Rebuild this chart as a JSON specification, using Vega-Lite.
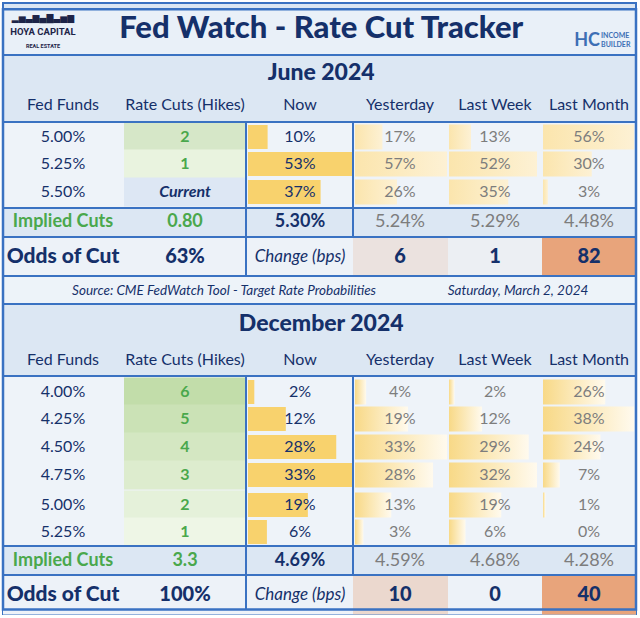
{
"$schema":"https://vega.github.io/schema/vega-lite/v6.json",
"width":633,"height":611,"padding":3,"autosize":{"type":"none"},
"background":"#ffffff",
"config":{"view":{"fill":"#dce7f3","stroke":"#3a72c2","strokeWidth":2},"axis":{"disable":true},"legend":{"disable":true},"text":{"font":"Lato","baseline":"middle","align":"center"}},
"datasets":{
"probs":[
{"sec":"June 2024","r":3,"fed":"5.00%","cuts":2,"now":0.10,"yest":0.17,"week":0.13,"month":0.56},
{"sec":"June 2024","r":4,"fed":"5.25%","cuts":1,"now":0.53,"yest":0.57,"week":0.52,"month":0.30},
{"sec":"June 2024","r":5,"fed":"5.50%","cuts":null,"now":0.37,"yest":0.26,"week":0.35,"month":0.03},
{"sec":"December 2024","r":11,"fed":"4.00%","cuts":6,"now":0.02,"yest":0.04,"week":0.02,"month":0.26},
{"sec":"December 2024","r":12,"fed":"4.25%","cuts":5,"now":0.12,"yest":0.19,"week":0.12,"month":0.38},
{"sec":"December 2024","r":13,"fed":"4.50%","cuts":4,"now":0.28,"yest":0.33,"week":0.29,"month":0.24},
{"sec":"December 2024","r":14,"fed":"4.75%","cuts":3,"now":0.33,"yest":0.28,"week":0.32,"month":0.07},
{"sec":"December 2024","r":15,"fed":"5.00%","cuts":2,"now":0.19,"yest":0.13,"week":0.19,"month":0.01},
{"sec":"December 2024","r":16,"fed":"5.25%","cuts":1,"now":0.06,"yest":0.03,"week":0.06,"month":0.00}],
"implied":[
{"sec":"June 2024","r":6,"cuts":"0.80","now":0.0530,"yest":0.0524,"week":0.0529,"month":0.0448},
{"sec":"December 2024","r":17,"cuts":"3.3","now":0.0469,"yest":0.0459,"week":0.0468,"month":0.0428}],
"odds":[
{"sec":"June 2024","r":7,"odds":0.63,"yest":6,"week":1,"month":82},
{"sec":"December 2024","r":18,"odds":1.00,"yest":10,"week":0,"month":40}],
"sections":[{"sec":"June 2024","r":1},{"sec":"December 2024","r":9}],
"cols":[{"c":0,"name":"Fed Funds"},{"c":1,"name":"Rate Cuts (Hikes)"},{"c":2,"name":"Now"},{"c":3,"name":"Yesterday"},{"c":4,"name":"Last Week"},{"c":5,"name":"Last Month"}]
},
"resolve":{"scale":{"x":"independent"}},
"layer":[
{"layer":[
{"data":{"values":[{}]},"mark":{"type":"rect","fill":"#e9f0f8"},"encoding":{"x":{"datum":-0.5,"type":"quantitative","scale":{"domain":[-0.5,0,0.5,1,1.5,2,2.5,3,3.5,4,4.5,5,5.5],"range":[0,60,121,182,243,297,350,397,445,492,539,586,633],"nice":false,"zero":false}},"x2":{"datum":5.5},"y":{"datum":-0.5,"type":"quantitative","scale":{"domain":[-0.5,0,0.5,1,1.5,2,2.5,3,3.5,4,4.5,5,5.5,6,6.5,7,7.5,8,8.5,9,9.5,10,10.5,11,11.5,12,12.5,13,13.5,14,14.5,15,15.5,16,16.5,17,17.5,18,18.5],"range":[0,26,52,70,87,102,119,134,147,161,175,189,205,219,234,254,273,288,301,321,339,357,373,389,402,416,430,444,458,472,487,502,515,529,543,558,572,592,611],"nice":false,"zero":false}},"y2":{"datum":0.5}}},
{"data":{"values":[{}]},"mark":{"type":"rect","fill":"#edf3f9"},"encoding":{"x":{"datum":-0.5,"type":"quantitative","scale":{"domain":[-0.5,0,0.5,1,1.5,2,2.5,3,3.5,4,4.5,5,5.5],"range":[0,60,121,182,243,297,350,397,445,492,539,586,633],"nice":false,"zero":false}},"x2":{"datum":5.5},"y":{"datum":7.5,"type":"quantitative","scale":{"domain":[-0.5,0,0.5,1,1.5,2,2.5,3,3.5,4,4.5,5,5.5,6,6.5,7,7.5,8,8.5,9,9.5,10,10.5,11,11.5,12,12.5,13,13.5,14,14.5,15,15.5,16,16.5,17,17.5,18,18.5],"range":[0,26,52,70,87,102,119,134,147,161,175,189,205,219,234,254,273,288,301,321,339,357,373,389,402,416,430,444,458,472,487,502,515,529,543,558,572,592,611],"nice":false,"zero":false}},"y2":{"datum":8.5}}},
{"data":{"name":"probs"},"mark":{"type":"rect","fill":"#eef3f9","height":30},"encoding":{"x":{"datum":-0.5,"type":"quantitative","scale":{"domain":[-0.5,0,0.5,1,1.5,2,2.5,3,3.5,4,4.5,5,5.5],"range":[0,60,121,182,243,297,350,397,445,492,539,586,633],"nice":false,"zero":false}},"x2":{"datum":5.5},"y":{"field":"r","type":"quantitative","scale":{"domain":[-0.5,0,0.5,1,1.5,2,2.5,3,3.5,4,4.5,5,5.5,6,6.5,7,7.5,8,8.5,9,9.5,10,10.5,11,11.5,12,12.5,13,13.5,14,14.5,15,15.5,16,16.5,17,17.5,18,18.5],"range":[0,26,52,70,87,102,119,134,147,161,175,189,205,219,234,254,273,288,301,321,339,357,373,389,402,416,430,444,458,472,487,502,515,529,543,558,572,592,611],"nice":false,"zero":false}}}},
{"data":{"name":"odds"},"mark":{"type":"rect","fill":"#edf2f8","height":39},"encoding":{"x":{"datum":-0.5,"type":"quantitative","scale":{"domain":[-0.5,0,0.5,1,1.5,2,2.5,3,3.5,4,4.5,5,5.5],"range":[0,60,121,182,243,297,350,397,445,492,539,586,633],"nice":false,"zero":false}},"x2":{"datum":5.5},"y":{"field":"r","type":"quantitative","scale":{"domain":[-0.5,0,0.5,1,1.5,2,2.5,3,3.5,4,4.5,5,5.5,6,6.5,7,7.5,8,8.5,9,9.5,10,10.5,11,11.5,12,12.5,13,13.5,14,14.5,15,15.5,16,16.5,17,17.5,18,18.5],"range":[0,26,52,70,87,102,119,134,147,161,175,189,205,219,234,254,273,288,301,321,339,357,373,389,402,416,430,444,458,472,487,502,515,529,543,558,572,592,611],"nice":false,"zero":false}}}},
{"data":{"name":"probs"},"transform":[{"filter":"datum.sec == 'June 2024' && isValid(datum.cuts)"}],"mark":{"type":"rect","height":29},"encoding":{"x":{"datum":0.5,"type":"quantitative","scale":{"domain":[-0.5,0,0.5,1,1.5,2,2.5,3,3.5,4,4.5,5,5.5],"range":[0,60,121,182,243,297,350,397,445,492,539,586,633],"nice":false,"zero":false}},"x2":{"datum":1.5},"y":{"field":"r","type":"quantitative","scale":{"domain":[-0.5,0,0.5,1,1.5,2,2.5,3,3.5,4,4.5,5,5.5,6,6.5,7,7.5,8,8.5,9,9.5,10,10.5,11,11.5,12,12.5,13,13.5,14,14.5,15,15.5,16,16.5,17,17.5,18,18.5],"range":[0,26,52,70,87,102,119,134,147,161,175,189,205,219,234,254,273,288,301,321,339,357,373,389,402,416,430,444,458,472,487,502,515,529,543,558,572,592,611],"nice":false,"zero":false}},"fill":{"field":"cuts","type":"quantitative","scale":{"domain":[1,2],"range":["#e9f3df","#d6e7c8"]},"legend":null}}},
{"data":{"name":"probs"},"transform":[{"filter":"datum.sec == 'December 2024' && isValid(datum.cuts)"}],"mark":{"type":"rect","height":29},"encoding":{"x":{"datum":0.5,"type":"quantitative","scale":{"domain":[-0.5,0,0.5,1,1.5,2,2.5,3,3.5,4,4.5,5,5.5],"range":[0,60,121,182,243,297,350,397,445,492,539,586,633],"nice":false,"zero":false}},"x2":{"datum":1.5},"y":{"field":"r","type":"quantitative","scale":{"domain":[-0.5,0,0.5,1,1.5,2,2.5,3,3.5,4,4.5,5,5.5,6,6.5,7,7.5,8,8.5,9,9.5,10,10.5,11,11.5,12,12.5,13,13.5,14,14.5,15,15.5,16,16.5,17,17.5,18,18.5],"range":[0,26,52,70,87,102,119,134,147,161,175,189,205,219,234,254,273,288,301,321,339,357,373,389,402,416,430,444,458,472,487,502,515,529,543,558,572,592,611],"nice":false,"zero":false}},"color":{"field":"cuts","type":"quantitative","scale":{"domain":[1,6],"range":["#eef6e6","#c2ddaa"]},"legend":null}}},
{"data":{"name":"probs"},"transform":[{"filter":"!isValid(datum.cuts)"}],"mark":{"type":"rect","height":29,"fill":"#dde7f4"},"encoding":{"x":{"datum":0.5,"type":"quantitative","scale":{"domain":[-0.5,0,0.5,1,1.5,2,2.5,3,3.5,4,4.5,5,5.5],"range":[0,60,121,182,243,297,350,397,445,492,539,586,633],"nice":false,"zero":false}},"x2":{"datum":1.5},"y":{"field":"r","type":"quantitative","scale":{"domain":[-0.5,0,0.5,1,1.5,2,2.5,3,3.5,4,4.5,5,5.5,6,6.5,7,7.5,8,8.5,9,9.5,10,10.5,11,11.5,12,12.5,13,13.5,14,14.5,15,15.5,16,16.5,17,17.5,18,18.5],"range":[0,26,52,70,87,102,119,134,147,161,175,189,205,219,234,254,273,288,301,321,339,357,373,389,402,416,430,444,458,472,487,502,515,529,543,558,572,592,611],"nice":false,"zero":false}}}},
{"data":{"name":"odds"},"mark":{"type":"rect","height":39,"fill":"#e8a47b"},"encoding":{"x":{"datum":2.5,"type":"quantitative","scale":{"domain":[-0.5,0,0.5,1,1.5,2,2.5,3,3.5,4,4.5,5,5.5],"range":[0,60,121,182,243,297,350,397,445,492,539,586,633],"nice":false,"zero":false}},"x2":{"datum":3.5},"y":{"field":"r","type":"quantitative","scale":{"domain":[-0.5,0,0.5,1,1.5,2,2.5,3,3.5,4,4.5,5,5.5,6,6.5,7,7.5,8,8.5,9,9.5,10,10.5,11,11.5,12,12.5,13,13.5,14,14.5,15,15.5,16,16.5,17,17.5,18,18.5],"range":[0,26,52,70,87,102,119,134,147,161,175,189,205,219,234,254,273,288,301,321,339,357,373,389,402,416,430,444,458,472,487,502,515,529,543,558,572,592,611],"nice":false,"zero":false}},"opacity":{"field":"yest","type":"quantitative","scale":{"domain":[0,30],"range":[0,1],"clamp":true},"legend":null}}},
{"data":{"name":"odds"},"mark":{"type":"rect","height":39,"fill":"#e8a47b"},"encoding":{"x":{"datum":3.5,"type":"quantitative","scale":{"domain":[-0.5,0,0.5,1,1.5,2,2.5,3,3.5,4,4.5,5,5.5],"range":[0,60,121,182,243,297,350,397,445,492,539,586,633],"nice":false,"zero":false}},"x2":{"datum":4.5},"y":{"field":"r","type":"quantitative","scale":{"domain":[-0.5,0,0.5,1,1.5,2,2.5,3,3.5,4,4.5,5,5.5,6,6.5,7,7.5,8,8.5,9,9.5,10,10.5,11,11.5,12,12.5,13,13.5,14,14.5,15,15.5,16,16.5,17,17.5,18,18.5],"range":[0,26,52,70,87,102,119,134,147,161,175,189,205,219,234,254,273,288,301,321,339,357,373,389,402,416,430,444,458,472,487,502,515,529,543,558,572,592,611],"nice":false,"zero":false}},"opacity":{"field":"week","type":"quantitative","scale":{"domain":[0,30],"range":[0,1],"clamp":true},"legend":null}}},
{"data":{"name":"odds"},"mark":{"type":"rect","height":39,"fill":"#e8a47b"},"encoding":{"x":{"datum":4.5,"type":"quantitative","scale":{"domain":[-0.5,0,0.5,1,1.5,2,2.5,3,3.5,4,4.5,5,5.5],"range":[0,60,121,182,243,297,350,397,445,492,539,586,633],"nice":false,"zero":false}},"x2":{"datum":5.5},"y":{"field":"r","type":"quantitative","scale":{"domain":[-0.5,0,0.5,1,1.5,2,2.5,3,3.5,4,4.5,5,5.5,6,6.5,7,7.5,8,8.5,9,9.5,10,10.5,11,11.5,12,12.5,13,13.5,14,14.5,15,15.5,16,16.5,17,17.5,18,18.5],"range":[0,26,52,70,87,102,119,134,147,161,175,189,205,219,234,254,273,288,301,321,339,357,373,389,402,416,430,444,458,472,487,502,515,529,543,558,572,592,611],"nice":false,"zero":false}},"opacity":{"field":"month","type":"quantitative","scale":{"domain":[0,30],"range":[0,1],"clamp":true},"legend":null}}}
]},
{"data":{"name":"probs"},"transform":[{"filter":"datum.sec == 'June 2024'"}],"mark":{"type":"bar","orient":"horizontal","height":24,"fill":"#f8d26d"},"encoding":{"x":{"field":"now","type":"quantitative","scale":{"range":[245,349],"nice":false,"zero":true}},"y":{"field":"r","type":"quantitative","scale":{"domain":[-0.5,0,0.5,1,1.5,2,2.5,3,3.5,4,4.5,5,5.5,6,6.5,7,7.5,8,8.5,9,9.5,10,10.5,11,11.5,12,12.5,13,13.5,14,14.5,15,15.5,16,16.5,17,17.5,18,18.5],"range":[0,26,52,70,87,102,119,134,147,161,175,189,205,219,234,254,273,288,301,321,339,357,373,389,402,416,430,444,458,472,487,502,515,529,543,558,572,592,611],"nice":false,"zero":false}}}},
{"data":{"name":"probs"},"transform":[{"filter":"datum.sec == 'December 2024'"}],"mark":{"type":"bar","orient":"horizontal","height":24,"fill":"#f8d26d"},"encoding":{"x":{"field":"now","type":"quantitative","scale":{"range":[245,349],"nice":false,"zero":true}},"y":{"field":"r","type":"quantitative","scale":{"domain":[-0.5,0,0.5,1,1.5,2,2.5,3,3.5,4,4.5,5,5.5,6,6.5,7,7.5,8,8.5,9,9.5,10,10.5,11,11.5,12,12.5,13,13.5,14,14.5,15,15.5,16,16.5,17,17.5,18,18.5],"range":[0,26,52,70,87,102,119,134,147,161,175,189,205,219,234,254,273,288,301,321,339,357,373,389,402,416,430,444,458,472,487,502,515,529,543,558,572,592,611],"nice":false,"zero":false}}}},
{"data":{"name":"probs"},"transform":[{"filter":"datum.sec == 'June 2024'"}],"mark":{"type":"bar","orient":"horizontal","height":25,"fill":{"gradient":"linear","x1":0,"y1":0,"x2":1,"y2":0,"stops":[{"offset":0,"color":"#fbe5ad"},{"offset":1,"color":"#fdf1d4"}]}},"encoding":{"x":{"field":"yest","type":"quantitative","scale":{"range":[352,444],"nice":false,"zero":true}},"y":{"field":"r","type":"quantitative","scale":{"domain":[-0.5,0,0.5,1,1.5,2,2.5,3,3.5,4,4.5,5,5.5,6,6.5,7,7.5,8,8.5,9,9.5,10,10.5,11,11.5,12,12.5,13,13.5,14,14.5,15,15.5,16,16.5,17,17.5,18,18.5],"range":[0,26,52,70,87,102,119,134,147,161,175,189,205,219,234,254,273,288,301,321,339,357,373,389,402,416,430,444,458,472,487,502,515,529,543,558,572,592,611],"nice":false,"zero":false}}}},
{"data":{"name":"probs"},"transform":[{"filter":"datum.sec == 'June 2024'"}],"mark":{"type":"bar","orient":"horizontal","height":25,"fill":{"gradient":"linear","x1":0,"y1":0,"x2":1,"y2":0,"stops":[{"offset":0,"color":"#fbe5ad"},{"offset":1,"color":"#fdf1d4"}]}},"encoding":{"x":{"field":"week","type":"quantitative","scale":{"range":[446,534],"nice":false,"zero":true}},"y":{"field":"r","type":"quantitative","scale":{"domain":[-0.5,0,0.5,1,1.5,2,2.5,3,3.5,4,4.5,5,5.5,6,6.5,7,7.5,8,8.5,9,9.5,10,10.5,11,11.5,12,12.5,13,13.5,14,14.5,15,15.5,16,16.5,17,17.5,18,18.5],"range":[0,26,52,70,87,102,119,134,147,161,175,189,205,219,234,254,273,288,301,321,339,357,373,389,402,416,430,444,458,472,487,502,515,529,543,558,572,592,611],"nice":false,"zero":false}}}},
{"data":{"name":"probs"},"transform":[{"filter":"datum.sec == 'June 2024'"}],"mark":{"type":"bar","orient":"horizontal","height":25,"fill":{"gradient":"linear","x1":0,"y1":0,"x2":1,"y2":0,"stops":[{"offset":0,"color":"#fbe5ad"},{"offset":1,"color":"#fdf1d4"}]}},"encoding":{"x":{"field":"month","type":"quantitative","scale":{"range":[540,631],"nice":false,"zero":true}},"y":{"field":"r","type":"quantitative","scale":{"domain":[-0.5,0,0.5,1,1.5,2,2.5,3,3.5,4,4.5,5,5.5,6,6.5,7,7.5,8,8.5,9,9.5,10,10.5,11,11.5,12,12.5,13,13.5,14,14.5,15,15.5,16,16.5,17,17.5,18,18.5],"range":[0,26,52,70,87,102,119,134,147,161,175,189,205,219,234,254,273,288,301,321,339,357,373,389,402,416,430,444,458,472,487,502,515,529,543,558,572,592,611],"nice":false,"zero":false}}}},
{"data":{"name":"probs"},"transform":[{"filter":"datum.sec == 'December 2024'"}],"mark":{"type":"bar","orient":"horizontal","height":25,"fill":{"gradient":"linear","x1":0,"y1":0,"x2":1,"y2":0,"stops":[{"offset":0,"color":"#f8d987"},{"offset":1,"color":"#fffaee"}]}},"encoding":{"x":{"field":"yest","type":"quantitative","scale":{"range":[352,444],"nice":false,"zero":true}},"y":{"field":"r","type":"quantitative","scale":{"domain":[-0.5,0,0.5,1,1.5,2,2.5,3,3.5,4,4.5,5,5.5,6,6.5,7,7.5,8,8.5,9,9.5,10,10.5,11,11.5,12,12.5,13,13.5,14,14.5,15,15.5,16,16.5,17,17.5,18,18.5],"range":[0,26,52,70,87,102,119,134,147,161,175,189,205,219,234,254,273,288,301,321,339,357,373,389,402,416,430,444,458,472,487,502,515,529,543,558,572,592,611],"nice":false,"zero":false}}}},
{"data":{"name":"probs"},"transform":[{"filter":"datum.sec == 'December 2024'"}],"mark":{"type":"bar","orient":"horizontal","height":25,"fill":{"gradient":"linear","x1":0,"y1":0,"x2":1,"y2":0,"stops":[{"offset":0,"color":"#f8d987"},{"offset":1,"color":"#fffaee"}]}},"encoding":{"x":{"field":"week","type":"quantitative","scale":{"range":[446,534],"nice":false,"zero":true}},"y":{"field":"r","type":"quantitative","scale":{"domain":[-0.5,0,0.5,1,1.5,2,2.5,3,3.5,4,4.5,5,5.5,6,6.5,7,7.5,8,8.5,9,9.5,10,10.5,11,11.5,12,12.5,13,13.5,14,14.5,15,15.5,16,16.5,17,17.5,18,18.5],"range":[0,26,52,70,87,102,119,134,147,161,175,189,205,219,234,254,273,288,301,321,339,357,373,389,402,416,430,444,458,472,487,502,515,529,543,558,572,592,611],"nice":false,"zero":false}}}},
{"data":{"name":"probs"},"transform":[{"filter":"datum.sec == 'December 2024'"}],"mark":{"type":"bar","orient":"horizontal","height":25,"fill":{"gradient":"linear","x1":0,"y1":0,"x2":1,"y2":0,"stops":[{"offset":0,"color":"#f8d987"},{"offset":1,"color":"#fffaee"}]}},"encoding":{"x":{"field":"month","type":"quantitative","scale":{"range":[540,631],"nice":false,"zero":true}},"y":{"field":"r","type":"quantitative","scale":{"domain":[-0.5,0,0.5,1,1.5,2,2.5,3,3.5,4,4.5,5,5.5,6,6.5,7,7.5,8,8.5,9,9.5,10,10.5,11,11.5,12,12.5,13,13.5,14,14.5,15,15.5,16,16.5,17,17.5,18,18.5],"range":[0,26,52,70,87,102,119,134,147,161,175,189,205,219,234,254,273,288,301,321,339,357,373,389,402,416,430,444,458,472,487,502,515,529,543,558,572,592,611],"nice":false,"zero":false}}}},
{"layer":[
{"data":{"values":[{"b":0.5},{"b":2.5},{"b":5.5},{"b":6.5},{"b":7.5},{"b":8.5},{"b":10.5},{"b":16.5},{"b":17.5}]},"mark":{"type":"rule","stroke":"#3a72c2","strokeWidth":2},"encoding":{"x":{"datum":-0.5,"type":"quantitative","scale":{"domain":[-0.5,0,0.5,1,1.5,2,2.5,3,3.5,4,4.5,5,5.5],"range":[0,60,121,182,243,297,350,397,445,492,539,586,633],"nice":false,"zero":false}},"x2":{"datum":5.5},"y":{"field":"b","type":"quantitative","scale":{"domain":[-0.5,0,0.5,1,1.5,2,2.5,3,3.5,4,4.5,5,5.5,6,6.5,7,7.5,8,8.5,9,9.5,10,10.5,11,11.5,12,12.5,13,13.5,14,14.5,15,15.5,16,16.5,17,17.5,18,18.5],"range":[0,26,52,70,87,102,119,134,147,161,175,189,205,219,234,254,273,288,301,321,339,357,373,389,402,416,430,444,458,472,487,502,515,529,543,558,572,592,611],"nice":false,"zero":false}}}},
{"data":{"values":[{"xb":1.5,"t":2.5,"e":7.5},{"xb":1.5,"t":10.5,"e":18.5},{"xb":2.5,"t":2.5,"e":6.5},{"xb":2.5,"t":10.5,"e":17.5}]},"mark":{"type":"rule","stroke":"#3a72c2","strokeWidth":2},"encoding":{"x":{"field":"xb","type":"quantitative","scale":{"domain":[-0.5,0,0.5,1,1.5,2,2.5,3,3.5,4,4.5,5,5.5],"range":[0,60,121,182,243,297,350,397,445,492,539,586,633],"nice":false,"zero":false}},"y":{"field":"t","type":"quantitative","scale":{"domain":[-0.5,0,0.5,1,1.5,2,2.5,3,3.5,4,4.5,5,5.5,6,6.5,7,7.5,8,8.5,9,9.5,10,10.5,11,11.5,12,12.5,13,13.5,14,14.5,15,15.5,16,16.5,17,17.5,18,18.5],"range":[0,26,52,70,87,102,119,134,147,161,175,189,205,219,234,254,273,288,301,321,339,357,373,389,402,416,430,444,458,472,487,502,515,529,543,558,572,592,611],"nice":false,"zero":false}},"y2":{"field":"e"}}},
{"data":{"values":[{}]},"mark":{"type":"rect","fill":"transparent","stroke":"#3a72c2","strokeWidth":2.5},"encoding":{"x":{"datum":-0.5,"type":"quantitative","scale":{"domain":[-0.5,0,0.5,1,1.5,2,2.5,3,3.5,4,4.5,5,5.5],"range":[0,60,121,182,243,297,350,397,445,492,539,586,633],"nice":false,"zero":false}},"x2":{"datum":5.5},"y":{"datum":-0.5,"type":"quantitative","scale":{"domain":[-0.5,0,0.5,1,1.5,2,2.5,3,3.5,4,4.5,5,5.5,6,6.5,7,7.5,8,8.5,9,9.5,10,10.5,11,11.5,12,12.5,13,13.5,14,14.5,15,15.5,16,16.5,17,17.5,18,18.5],"range":[0,26,52,70,87,102,119,134,147,161,175,189,205,219,234,254,273,288,301,321,339,357,373,389,402,416,430,444,458,472,487,502,515,529,543,558,572,592,611],"nice":false,"zero":false}},"y2":{"datum":18.5}}},
{"data":{"values":[{}]},"mark":{"type":"text","text":"Fed Watch - Rate Cut Tracker","fontSize":31,"fontWeight":900,"color":"#15306a"},"encoding":{"x":{"datum":2.2,"type":"quantitative","scale":{"domain":[-0.5,0,0.5,1,1.5,2,2.5,3,3.5,4,4.5,5,5.5],"range":[0,60,121,182,243,297,350,397,445,492,539,586,633],"nice":false,"zero":false}},"y":{"datum":0,"type":"quantitative","scale":{"domain":[-0.5,0,0.5,1,1.5,2,2.5,3,3.5,4,4.5,5,5.5,6,6.5,7,7.5,8,8.5,9,9.5,10,10.5,11,11.5,12,12.5,13,13.5,14,14.5,15,15.5,16,16.5,17,17.5,18,18.5],"range":[0,26,52,70,87,102,119,134,147,161,175,189,205,219,234,254,273,288,301,321,339,357,373,389,402,416,430,444,458,472,487,502,515,529,543,558,572,592,611],"nice":false,"zero":false}}}},
{"data":{"values":[{}]},"mark":{"type":"text","text":"▂▅▃▆▄▇▃▅▆","font":"DejaVu Sans","fontSize":9,"color":"#1d2448"},"encoding":{"x":{"datum":-0.167,"type":"quantitative","scale":{"domain":[-0.5,0,0.5,1,1.5,2,2.5,3,3.5,4,4.5,5,5.5],"range":[0,60,121,182,243,297,350,397,445,492,539,586,633],"nice":false,"zero":false}},"y":{"datum":-0.27,"type":"quantitative","scale":{"domain":[-0.5,0,0.5,1,1.5,2,2.5,3,3.5,4,4.5,5,5.5,6,6.5,7,7.5,8,8.5,9,9.5,10,10.5,11,11.5,12,12.5,13,13.5,14,14.5,15,15.5,16,16.5,17,17.5,18,18.5],"range":[0,26,52,70,87,102,119,134,147,161,175,189,205,219,234,254,273,288,301,321,339,357,373,389,402,416,430,444,458,472,487,502,515,529,543,558,572,592,611],"nice":false,"zero":false}}}},
{"data":{"values":[{}]},"mark":{"type":"text","text":"HOYA CAPITAL","font":"Roboto","fontSize":9.5,"fontWeight":"bold","color":"#1d2448"},"encoding":{"x":{"datum":-0.167,"type":"quantitative","scale":{"domain":[-0.5,0,0.5,1,1.5,2,2.5,3,3.5,4,4.5,5,5.5],"range":[0,60,121,182,243,297,350,397,445,492,539,586,633],"nice":false,"zero":false}},"y":{"datum":0.058,"type":"quantitative","scale":{"domain":[-0.5,0,0.5,1,1.5,2,2.5,3,3.5,4,4.5,5,5.5,6,6.5,7,7.5,8,8.5,9,9.5,10,10.5,11,11.5,12,12.5,13,13.5,14,14.5,15,15.5,16,16.5,17,17.5,18,18.5],"range":[0,26,52,70,87,102,119,134,147,161,175,189,205,219,234,254,273,288,301,321,339,357,373,389,402,416,430,444,458,472,487,502,515,529,543,558,572,592,611],"nice":false,"zero":false}}}},
{"data":{"values":[{}]},"mark":{"type":"text","text":"REAL ESTATE","font":"Roboto","fontSize":5.5,"fontWeight":"bold","color":"#1d2448"},"encoding":{"x":{"datum":-0.167,"type":"quantitative","scale":{"domain":[-0.5,0,0.5,1,1.5,2,2.5,3,3.5,4,4.5,5,5.5],"range":[0,60,121,182,243,297,350,397,445,492,539,586,633],"nice":false,"zero":false}},"y":{"datum":0.32,"type":"quantitative","scale":{"domain":[-0.5,0,0.5,1,1.5,2,2.5,3,3.5,4,4.5,5,5.5,6,6.5,7,7.5,8,8.5,9,9.5,10,10.5,11,11.5,12,12.5,13,13.5,14,14.5,15,15.5,16,16.5,17,17.5,18,18.5],"range":[0,26,52,70,87,102,119,134,147,161,175,189,205,219,234,254,273,288,301,321,339,357,373,389,402,416,430,444,458,472,487,502,515,529,543,558,572,592,611],"nice":false,"zero":false}}}},
{"data":{"values":[{}]},"mark":{"type":"text","text":"HC","fontSize":18,"fontWeight":"bold","color":"#3d6fb5"},"encoding":{"x":{"datum":4.979,"type":"quantitative","scale":{"domain":[-0.5,0,0.5,1,1.5,2,2.5,3,3.5,4,4.5,5,5.5],"range":[0,60,121,182,243,297,350,397,445,492,539,586,633],"nice":false,"zero":false}},"y":{"datum":0.23,"type":"quantitative","scale":{"domain":[-0.5,0,0.5,1,1.5,2,2.5,3,3.5,4,4.5,5,5.5,6,6.5,7,7.5,8,8.5,9,9.5,10,10.5,11,11.5,12,12.5,13,13.5,14,14.5,15,15.5,16,16.5,17,17.5,18,18.5],"range":[0,26,52,70,87,102,119,134,147,161,175,189,205,219,234,254,273,288,301,321,339,357,373,389,402,416,430,444,458,472,487,502,515,529,543,558,572,592,611],"nice":false,"zero":false}}}},
{"data":{"values":[{}]},"mark":{"type":"text","text":"INCOME","align":"left","fontSize":7,"fontWeight":"bold","color":"#3d6fb5"},"encoding":{"x":{"datum":5.128,"type":"quantitative","scale":{"domain":[-0.5,0,0.5,1,1.5,2,2.5,3,3.5,4,4.5,5,5.5],"range":[0,60,121,182,243,297,350,397,445,492,539,586,633],"nice":false,"zero":false}},"y":{"datum":0.144,"type":"quantitative","scale":{"domain":[-0.5,0,0.5,1,1.5,2,2.5,3,3.5,4,4.5,5,5.5,6,6.5,7,7.5,8,8.5,9,9.5,10,10.5,11,11.5,12,12.5,13,13.5,14,14.5,15,15.5,16,16.5,17,17.5,18,18.5],"range":[0,26,52,70,87,102,119,134,147,161,175,189,205,219,234,254,273,288,301,321,339,357,373,389,402,416,430,444,458,472,487,502,515,529,543,558,572,592,611],"nice":false,"zero":false}}}},
{"data":{"values":[{}]},"mark":{"type":"text","text":"BUILDER","align":"left","fontSize":7,"fontWeight":"bold","color":"#3d6fb5"},"encoding":{"x":{"datum":5.128,"type":"quantitative","scale":{"domain":[-0.5,0,0.5,1,1.5,2,2.5,3,3.5,4,4.5,5,5.5],"range":[0,60,121,182,243,297,350,397,445,492,539,586,633],"nice":false,"zero":false}},"y":{"datum":0.31,"type":"quantitative","scale":{"domain":[-0.5,0,0.5,1,1.5,2,2.5,3,3.5,4,4.5,5,5.5,6,6.5,7,7.5,8,8.5,9,9.5,10,10.5,11,11.5,12,12.5,13,13.5,14,14.5,15,15.5,16,16.5,17,17.5,18,18.5],"range":[0,26,52,70,87,102,119,134,147,161,175,189,205,219,234,254,273,288,301,321,339,357,373,389,402,416,430,444,458,472,487,502,515,529,543,558,572,592,611],"nice":false,"zero":false}}}},
{"data":{"name":"sections"},"mark":{"type":"text","fontSize":23,"fontWeight":900,"color":"#15306a"},"encoding":{"text":{"field":"sec"},"x":{"datum":2.2,"type":"quantitative","scale":{"domain":[-0.5,0,0.5,1,1.5,2,2.5,3,3.5,4,4.5,5,5.5],"range":[0,60,121,182,243,297,350,397,445,492,539,586,633],"nice":false,"zero":false}},"y":{"field":"r","type":"quantitative","scale":{"domain":[-0.5,0,0.5,1,1.5,2,2.5,3,3.5,4,4.5,5,5.5,6,6.5,7,7.5,8,8.5,9,9.5,10,10.5,11,11.5,12,12.5,13,13.5,14,14.5,15,15.5,16,16.5,17,17.5,18,18.5],"range":[0,26,52,70,87,102,119,134,147,161,175,189,205,219,234,254,273,288,301,321,339,357,373,389,402,416,430,444,458,472,487,502,515,529,543,558,572,592,611],"nice":false,"zero":false}}}},
{"data":{"name":"cols"},"mark":{"type":"text","fontSize":16,"color":"#15306a"},"encoding":{"text":{"field":"name"},"x":{"field":"c","type":"quantitative","scale":{"domain":[-0.5,0,0.5,1,1.5,2,2.5,3,3.5,4,4.5,5,5.5],"range":[0,60,121,182,243,297,350,397,445,492,539,586,633],"nice":false,"zero":false}},"y":{"datum":2,"type":"quantitative","scale":{"domain":[-0.5,0,0.5,1,1.5,2,2.5,3,3.5,4,4.5,5,5.5,6,6.5,7,7.5,8,8.5,9,9.5,10,10.5,11,11.5,12,12.5,13,13.5,14,14.5,15,15.5,16,16.5,17,17.5,18,18.5],"range":[0,26,52,70,87,102,119,134,147,161,175,189,205,219,234,254,273,288,301,321,339,357,373,389,402,416,430,444,458,472,487,502,515,529,543,558,572,592,611],"nice":false,"zero":false}}}},
{"data":{"name":"cols"},"mark":{"type":"text","fontSize":16,"color":"#15306a"},"encoding":{"text":{"field":"name"},"x":{"field":"c","type":"quantitative","scale":{"domain":[-0.5,0,0.5,1,1.5,2,2.5,3,3.5,4,4.5,5,5.5],"range":[0,60,121,182,243,297,350,397,445,492,539,586,633],"nice":false,"zero":false}},"y":{"datum":10,"type":"quantitative","scale":{"domain":[-0.5,0,0.5,1,1.5,2,2.5,3,3.5,4,4.5,5,5.5,6,6.5,7,7.5,8,8.5,9,9.5,10,10.5,11,11.5,12,12.5,13,13.5,14,14.5,15,15.5,16,16.5,17,17.5,18,18.5],"range":[0,26,52,70,87,102,119,134,147,161,175,189,205,219,234,254,273,288,301,321,339,357,373,389,402,416,430,444,458,472,487,502,515,529,543,558,572,592,611],"nice":false,"zero":false}}}},
{"data":{"name":"probs"},"mark":{"type":"text","fontSize":16,"color":"#15306a"},"encoding":{"text":{"field":"fed"},"x":{"datum":0,"type":"quantitative","scale":{"domain":[-0.5,0,0.5,1,1.5,2,2.5,3,3.5,4,4.5,5,5.5],"range":[0,60,121,182,243,297,350,397,445,492,539,586,633],"nice":false,"zero":false}},"y":{"field":"r","type":"quantitative","scale":{"domain":[-0.5,0,0.5,1,1.5,2,2.5,3,3.5,4,4.5,5,5.5,6,6.5,7,7.5,8,8.5,9,9.5,10,10.5,11,11.5,12,12.5,13,13.5,14,14.5,15,15.5,16,16.5,17,17.5,18,18.5],"range":[0,26,52,70,87,102,119,134,147,161,175,189,205,219,234,254,273,288,301,321,339,357,373,389,402,416,430,444,458,472,487,502,515,529,543,558,572,592,611],"nice":false,"zero":false}}}},
{"data":{"name":"probs"},"transform":[{"filter":"isValid(datum.cuts)"}],"mark":{"type":"text","fontSize":16,"fontWeight":"bold","color":"#4aa84c"},"encoding":{"text":{"field":"cuts"},"x":{"datum":1,"type":"quantitative","scale":{"domain":[-0.5,0,0.5,1,1.5,2,2.5,3,3.5,4,4.5,5,5.5],"range":[0,60,121,182,243,297,350,397,445,492,539,586,633],"nice":false,"zero":false}},"y":{"field":"r","type":"quantitative","scale":{"domain":[-0.5,0,0.5,1,1.5,2,2.5,3,3.5,4,4.5,5,5.5,6,6.5,7,7.5,8,8.5,9,9.5,10,10.5,11,11.5,12,12.5,13,13.5,14,14.5,15,15.5,16,16.5,17,17.5,18,18.5],"range":[0,26,52,70,87,102,119,134,147,161,175,189,205,219,234,254,273,288,301,321,339,357,373,389,402,416,430,444,458,472,487,502,515,529,543,558,572,592,611],"nice":false,"zero":false}}}},
{"data":{"name":"probs"},"transform":[{"filter":"!isValid(datum.cuts)"}],"mark":{"type":"text","text":"Current","fontSize":16,"fontWeight":"bold","fontStyle":"italic","color":"#15306a"},"encoding":{"x":{"datum":1,"type":"quantitative","scale":{"domain":[-0.5,0,0.5,1,1.5,2,2.5,3,3.5,4,4.5,5,5.5],"range":[0,60,121,182,243,297,350,397,445,492,539,586,633],"nice":false,"zero":false}},"y":{"field":"r","type":"quantitative","scale":{"domain":[-0.5,0,0.5,1,1.5,2,2.5,3,3.5,4,4.5,5,5.5,6,6.5,7,7.5,8,8.5,9,9.5,10,10.5,11,11.5,12,12.5,13,13.5,14,14.5,15,15.5,16,16.5,17,17.5,18,18.5],"range":[0,26,52,70,87,102,119,134,147,161,175,189,205,219,234,254,273,288,301,321,339,357,373,389,402,416,430,444,458,472,487,502,515,529,543,558,572,592,611],"nice":false,"zero":false}}}},
{"data":{"name":"probs"},"mark":{"type":"text","fontSize":16,"color":"#15306a"},"encoding":{"text":{"field":"now","type":"quantitative","format":".0%"},"x":{"datum":2,"type":"quantitative","scale":{"domain":[-0.5,0,0.5,1,1.5,2,2.5,3,3.5,4,4.5,5,5.5],"range":[0,60,121,182,243,297,350,397,445,492,539,586,633],"nice":false,"zero":false}},"y":{"field":"r","type":"quantitative","scale":{"domain":[-0.5,0,0.5,1,1.5,2,2.5,3,3.5,4,4.5,5,5.5,6,6.5,7,7.5,8,8.5,9,9.5,10,10.5,11,11.5,12,12.5,13,13.5,14,14.5,15,15.5,16,16.5,17,17.5,18,18.5],"range":[0,26,52,70,87,102,119,134,147,161,175,189,205,219,234,254,273,288,301,321,339,357,373,389,402,416,430,444,458,472,487,502,515,529,543,558,572,592,611],"nice":false,"zero":false}}}},
{"data":{"name":"probs"},"mark":{"type":"text","fontSize":16,"color":"#7d7d7d"},"encoding":{"text":{"field":"yest","type":"quantitative","format":".0%"},"x":{"datum":3,"type":"quantitative","scale":{"domain":[-0.5,0,0.5,1,1.5,2,2.5,3,3.5,4,4.5,5,5.5],"range":[0,60,121,182,243,297,350,397,445,492,539,586,633],"nice":false,"zero":false}},"y":{"field":"r","type":"quantitative","scale":{"domain":[-0.5,0,0.5,1,1.5,2,2.5,3,3.5,4,4.5,5,5.5,6,6.5,7,7.5,8,8.5,9,9.5,10,10.5,11,11.5,12,12.5,13,13.5,14,14.5,15,15.5,16,16.5,17,17.5,18,18.5],"range":[0,26,52,70,87,102,119,134,147,161,175,189,205,219,234,254,273,288,301,321,339,357,373,389,402,416,430,444,458,472,487,502,515,529,543,558,572,592,611],"nice":false,"zero":false}}}},
{"data":{"name":"probs"},"mark":{"type":"text","fontSize":16,"color":"#7d7d7d"},"encoding":{"text":{"field":"week","type":"quantitative","format":".0%"},"x":{"datum":4,"type":"quantitative","scale":{"domain":[-0.5,0,0.5,1,1.5,2,2.5,3,3.5,4,4.5,5,5.5],"range":[0,60,121,182,243,297,350,397,445,492,539,586,633],"nice":false,"zero":false}},"y":{"field":"r","type":"quantitative","scale":{"domain":[-0.5,0,0.5,1,1.5,2,2.5,3,3.5,4,4.5,5,5.5,6,6.5,7,7.5,8,8.5,9,9.5,10,10.5,11,11.5,12,12.5,13,13.5,14,14.5,15,15.5,16,16.5,17,17.5,18,18.5],"range":[0,26,52,70,87,102,119,134,147,161,175,189,205,219,234,254,273,288,301,321,339,357,373,389,402,416,430,444,458,472,487,502,515,529,543,558,572,592,611],"nice":false,"zero":false}}}},
{"data":{"name":"probs"},"mark":{"type":"text","fontSize":16,"color":"#7d7d7d"},"encoding":{"text":{"field":"month","type":"quantitative","format":".0%"},"x":{"datum":5,"type":"quantitative","scale":{"domain":[-0.5,0,0.5,1,1.5,2,2.5,3,3.5,4,4.5,5,5.5],"range":[0,60,121,182,243,297,350,397,445,492,539,586,633],"nice":false,"zero":false}},"y":{"field":"r","type":"quantitative","scale":{"domain":[-0.5,0,0.5,1,1.5,2,2.5,3,3.5,4,4.5,5,5.5,6,6.5,7,7.5,8,8.5,9,9.5,10,10.5,11,11.5,12,12.5,13,13.5,14,14.5,15,15.5,16,16.5,17,17.5,18,18.5],"range":[0,26,52,70,87,102,119,134,147,161,175,189,205,219,234,254,273,288,301,321,339,357,373,389,402,416,430,444,458,472,487,502,515,529,543,558,572,592,611],"nice":false,"zero":false}}}},
{"data":{"name":"implied"},"mark":{"type":"text","text":"Implied Cuts","fontSize":18,"fontWeight":"bold","color":"#4aa84c"},"encoding":{"x":{"datum":0,"type":"quantitative","scale":{"domain":[-0.5,0,0.5,1,1.5,2,2.5,3,3.5,4,4.5,5,5.5],"range":[0,60,121,182,243,297,350,397,445,492,539,586,633],"nice":false,"zero":false}},"y":{"field":"r","type":"quantitative","scale":{"domain":[-0.5,0,0.5,1,1.5,2,2.5,3,3.5,4,4.5,5,5.5,6,6.5,7,7.5,8,8.5,9,9.5,10,10.5,11,11.5,12,12.5,13,13.5,14,14.5,15,15.5,16,16.5,17,17.5,18,18.5],"range":[0,26,52,70,87,102,119,134,147,161,175,189,205,219,234,254,273,288,301,321,339,357,373,389,402,416,430,444,458,472,487,502,515,529,543,558,572,592,611],"nice":false,"zero":false}}}},
{"data":{"name":"implied"},"mark":{"type":"text","fontSize":18,"fontWeight":"bold","color":"#4aa84c"},"encoding":{"text":{"field":"cuts"},"x":{"datum":1,"type":"quantitative","scale":{"domain":[-0.5,0,0.5,1,1.5,2,2.5,3,3.5,4,4.5,5,5.5],"range":[0,60,121,182,243,297,350,397,445,492,539,586,633],"nice":false,"zero":false}},"y":{"field":"r","type":"quantitative","scale":{"domain":[-0.5,0,0.5,1,1.5,2,2.5,3,3.5,4,4.5,5,5.5,6,6.5,7,7.5,8,8.5,9,9.5,10,10.5,11,11.5,12,12.5,13,13.5,14,14.5,15,15.5,16,16.5,17,17.5,18,18.5],"range":[0,26,52,70,87,102,119,134,147,161,175,189,205,219,234,254,273,288,301,321,339,357,373,389,402,416,430,444,458,472,487,502,515,529,543,558,572,592,611],"nice":false,"zero":false}}}},
{"data":{"name":"implied"},"mark":{"type":"text","fontSize":18,"fontWeight":"bold","color":"#15306a"},"encoding":{"text":{"field":"now","type":"quantitative","format":".2%"},"x":{"datum":2,"type":"quantitative","scale":{"domain":[-0.5,0,0.5,1,1.5,2,2.5,3,3.5,4,4.5,5,5.5],"range":[0,60,121,182,243,297,350,397,445,492,539,586,633],"nice":false,"zero":false}},"y":{"field":"r","type":"quantitative","scale":{"domain":[-0.5,0,0.5,1,1.5,2,2.5,3,3.5,4,4.5,5,5.5,6,6.5,7,7.5,8,8.5,9,9.5,10,10.5,11,11.5,12,12.5,13,13.5,14,14.5,15,15.5,16,16.5,17,17.5,18,18.5],"range":[0,26,52,70,87,102,119,134,147,161,175,189,205,219,234,254,273,288,301,321,339,357,373,389,402,416,430,444,458,472,487,502,515,529,543,558,572,592,611],"nice":false,"zero":false}}}},
{"data":{"name":"implied"},"mark":{"type":"text","fontSize":18,"color":"#7d7d7d"},"encoding":{"text":{"field":"yest","type":"quantitative","format":".2%"},"x":{"datum":3,"type":"quantitative","scale":{"domain":[-0.5,0,0.5,1,1.5,2,2.5,3,3.5,4,4.5,5,5.5],"range":[0,60,121,182,243,297,350,397,445,492,539,586,633],"nice":false,"zero":false}},"y":{"field":"r","type":"quantitative","scale":{"domain":[-0.5,0,0.5,1,1.5,2,2.5,3,3.5,4,4.5,5,5.5,6,6.5,7,7.5,8,8.5,9,9.5,10,10.5,11,11.5,12,12.5,13,13.5,14,14.5,15,15.5,16,16.5,17,17.5,18,18.5],"range":[0,26,52,70,87,102,119,134,147,161,175,189,205,219,234,254,273,288,301,321,339,357,373,389,402,416,430,444,458,472,487,502,515,529,543,558,572,592,611],"nice":false,"zero":false}}}},
{"data":{"name":"implied"},"mark":{"type":"text","fontSize":18,"color":"#7d7d7d"},"encoding":{"text":{"field":"week","type":"quantitative","format":".2%"},"x":{"datum":4,"type":"quantitative","scale":{"domain":[-0.5,0,0.5,1,1.5,2,2.5,3,3.5,4,4.5,5,5.5],"range":[0,60,121,182,243,297,350,397,445,492,539,586,633],"nice":false,"zero":false}},"y":{"field":"r","type":"quantitative","scale":{"domain":[-0.5,0,0.5,1,1.5,2,2.5,3,3.5,4,4.5,5,5.5,6,6.5,7,7.5,8,8.5,9,9.5,10,10.5,11,11.5,12,12.5,13,13.5,14,14.5,15,15.5,16,16.5,17,17.5,18,18.5],"range":[0,26,52,70,87,102,119,134,147,161,175,189,205,219,234,254,273,288,301,321,339,357,373,389,402,416,430,444,458,472,487,502,515,529,543,558,572,592,611],"nice":false,"zero":false}}}},
{"data":{"name":"implied"},"mark":{"type":"text","fontSize":18,"color":"#7d7d7d"},"encoding":{"text":{"field":"month","type":"quantitative","format":".2%"},"x":{"datum":5,"type":"quantitative","scale":{"domain":[-0.5,0,0.5,1,1.5,2,2.5,3,3.5,4,4.5,5,5.5],"range":[0,60,121,182,243,297,350,397,445,492,539,586,633],"nice":false,"zero":false}},"y":{"field":"r","type":"quantitative","scale":{"domain":[-0.5,0,0.5,1,1.5,2,2.5,3,3.5,4,4.5,5,5.5,6,6.5,7,7.5,8,8.5,9,9.5,10,10.5,11,11.5,12,12.5,13,13.5,14,14.5,15,15.5,16,16.5,17,17.5,18,18.5],"range":[0,26,52,70,87,102,119,134,147,161,175,189,205,219,234,254,273,288,301,321,339,357,373,389,402,416,430,444,458,472,487,502,515,529,543,558,572,592,611],"nice":false,"zero":false}}}},
{"data":{"name":"odds"},"mark":{"type":"text","text":"Odds of Cut","fontSize":21,"fontWeight":900,"color":"#15306a"},"encoding":{"x":{"datum":0,"type":"quantitative","scale":{"domain":[-0.5,0,0.5,1,1.5,2,2.5,3,3.5,4,4.5,5,5.5],"range":[0,60,121,182,243,297,350,397,445,492,539,586,633],"nice":false,"zero":false}},"y":{"field":"r","type":"quantitative","scale":{"domain":[-0.5,0,0.5,1,1.5,2,2.5,3,3.5,4,4.5,5,5.5,6,6.5,7,7.5,8,8.5,9,9.5,10,10.5,11,11.5,12,12.5,13,13.5,14,14.5,15,15.5,16,16.5,17,17.5,18,18.5],"range":[0,26,52,70,87,102,119,134,147,161,175,189,205,219,234,254,273,288,301,321,339,357,373,389,402,416,430,444,458,472,487,502,515,529,543,558,572,592,611],"nice":false,"zero":false}}}},
{"data":{"name":"odds"},"mark":{"type":"text","fontSize":20,"fontWeight":900,"color":"#15306a"},"encoding":{"text":{"field":"odds","type":"quantitative","format":".0%"},"x":{"datum":1,"type":"quantitative","scale":{"domain":[-0.5,0,0.5,1,1.5,2,2.5,3,3.5,4,4.5,5,5.5],"range":[0,60,121,182,243,297,350,397,445,492,539,586,633],"nice":false,"zero":false}},"y":{"field":"r","type":"quantitative","scale":{"domain":[-0.5,0,0.5,1,1.5,2,2.5,3,3.5,4,4.5,5,5.5,6,6.5,7,7.5,8,8.5,9,9.5,10,10.5,11,11.5,12,12.5,13,13.5,14,14.5,15,15.5,16,16.5,17,17.5,18,18.5],"range":[0,26,52,70,87,102,119,134,147,161,175,189,205,219,234,254,273,288,301,321,339,357,373,389,402,416,430,444,458,472,487,502,515,529,543,558,572,592,611],"nice":false,"zero":false}}}},
{"data":{"name":"odds"},"mark":{"type":"text","text":"Change (bps)","fontSize":17,"fontStyle":"italic","color":"#15306a"},"encoding":{"x":{"datum":2,"type":"quantitative","scale":{"domain":[-0.5,0,0.5,1,1.5,2,2.5,3,3.5,4,4.5,5,5.5],"range":[0,60,121,182,243,297,350,397,445,492,539,586,633],"nice":false,"zero":false}},"y":{"field":"r","type":"quantitative","scale":{"domain":[-0.5,0,0.5,1,1.5,2,2.5,3,3.5,4,4.5,5,5.5,6,6.5,7,7.5,8,8.5,9,9.5,10,10.5,11,11.5,12,12.5,13,13.5,14,14.5,15,15.5,16,16.5,17,17.5,18,18.5],"range":[0,26,52,70,87,102,119,134,147,161,175,189,205,219,234,254,273,288,301,321,339,357,373,389,402,416,430,444,458,472,487,502,515,529,543,558,572,592,611],"nice":false,"zero":false}}}},
{"data":{"name":"odds"},"mark":{"type":"text","fontSize":20,"fontWeight":900,"color":"#15306a"},"encoding":{"text":{"field":"yest","type":"quantitative","format":"d"},"x":{"datum":3,"type":"quantitative","scale":{"domain":[-0.5,0,0.5,1,1.5,2,2.5,3,3.5,4,4.5,5,5.5],"range":[0,60,121,182,243,297,350,397,445,492,539,586,633],"nice":false,"zero":false}},"y":{"field":"r","type":"quantitative","scale":{"domain":[-0.5,0,0.5,1,1.5,2,2.5,3,3.5,4,4.5,5,5.5,6,6.5,7,7.5,8,8.5,9,9.5,10,10.5,11,11.5,12,12.5,13,13.5,14,14.5,15,15.5,16,16.5,17,17.5,18,18.5],"range":[0,26,52,70,87,102,119,134,147,161,175,189,205,219,234,254,273,288,301,321,339,357,373,389,402,416,430,444,458,472,487,502,515,529,543,558,572,592,611],"nice":false,"zero":false}}}},
{"data":{"name":"odds"},"mark":{"type":"text","fontSize":20,"fontWeight":900,"color":"#15306a"},"encoding":{"text":{"field":"week","type":"quantitative","format":"d"},"x":{"datum":4,"type":"quantitative","scale":{"domain":[-0.5,0,0.5,1,1.5,2,2.5,3,3.5,4,4.5,5,5.5],"range":[0,60,121,182,243,297,350,397,445,492,539,586,633],"nice":false,"zero":false}},"y":{"field":"r","type":"quantitative","scale":{"domain":[-0.5,0,0.5,1,1.5,2,2.5,3,3.5,4,4.5,5,5.5,6,6.5,7,7.5,8,8.5,9,9.5,10,10.5,11,11.5,12,12.5,13,13.5,14,14.5,15,15.5,16,16.5,17,17.5,18,18.5],"range":[0,26,52,70,87,102,119,134,147,161,175,189,205,219,234,254,273,288,301,321,339,357,373,389,402,416,430,444,458,472,487,502,515,529,543,558,572,592,611],"nice":false,"zero":false}}}},
{"data":{"name":"odds"},"mark":{"type":"text","fontSize":20,"fontWeight":900,"color":"#15306a"},"encoding":{"text":{"field":"month","type":"quantitative","format":"d"},"x":{"datum":5,"type":"quantitative","scale":{"domain":[-0.5,0,0.5,1,1.5,2,2.5,3,3.5,4,4.5,5,5.5],"range":[0,60,121,182,243,297,350,397,445,492,539,586,633],"nice":false,"zero":false}},"y":{"field":"r","type":"quantitative","scale":{"domain":[-0.5,0,0.5,1,1.5,2,2.5,3,3.5,4,4.5,5,5.5,6,6.5,7,7.5,8,8.5,9,9.5,10,10.5,11,11.5,12,12.5,13,13.5,14,14.5,15,15.5,16,16.5,17,17.5,18,18.5],"range":[0,26,52,70,87,102,119,134,147,161,175,189,205,219,234,254,273,288,301,321,339,357,373,389,402,416,430,444,458,472,487,502,515,529,543,558,572,592,611],"nice":false,"zero":false}}}},
{"data":{"values":[{}]},"mark":{"type":"text","text":"Source: CME FedWatch Tool - Target Rate Probabilities","fontSize":13.5,"fontStyle":"italic","color":"#15306a"},"encoding":{"x":{"datum":1.32,"type":"quantitative","scale":{"domain":[-0.5,0,0.5,1,1.5,2,2.5,3,3.5,4,4.5,5,5.5],"range":[0,60,121,182,243,297,350,397,445,492,539,586,633],"nice":false,"zero":false}},"y":{"datum":8,"type":"quantitative","scale":{"domain":[-0.5,0,0.5,1,1.5,2,2.5,3,3.5,4,4.5,5,5.5,6,6.5,7,7.5,8,8.5,9,9.5,10,10.5,11,11.5,12,12.5,13,13.5,14,14.5,15,15.5,16,16.5,17,17.5,18,18.5],"range":[0,26,52,70,87,102,119,134,147,161,175,189,205,219,234,254,273,288,301,321,339,357,373,389,402,416,430,444,458,472,487,502,515,529,543,558,572,592,611],"nice":false,"zero":false}}}},
{"data":{"values":[{}]},"mark":{"type":"text","text":"Saturday, March 2, 2024","fontSize":13.5,"fontStyle":"italic","color":"#15306a"},"encoding":{"x":{"datum":4.245,"type":"quantitative","scale":{"domain":[-0.5,0,0.5,1,1.5,2,2.5,3,3.5,4,4.5,5,5.5],"range":[0,60,121,182,243,297,350,397,445,492,539,586,633],"nice":false,"zero":false}},"y":{"datum":8,"type":"quantitative","scale":{"domain":[-0.5,0,0.5,1,1.5,2,2.5,3,3.5,4,4.5,5,5.5,6,6.5,7,7.5,8,8.5,9,9.5,10,10.5,11,11.5,12,12.5,13,13.5,14,14.5,15,15.5,16,16.5,17,17.5,18,18.5],"range":[0,26,52,70,87,102,119,134,147,161,175,189,205,219,234,254,273,288,301,321,339,357,373,389,402,416,430,444,458,472,487,502,515,529,543,558,572,592,611],"nice":false,"zero":false}}}}
]}
]
}
